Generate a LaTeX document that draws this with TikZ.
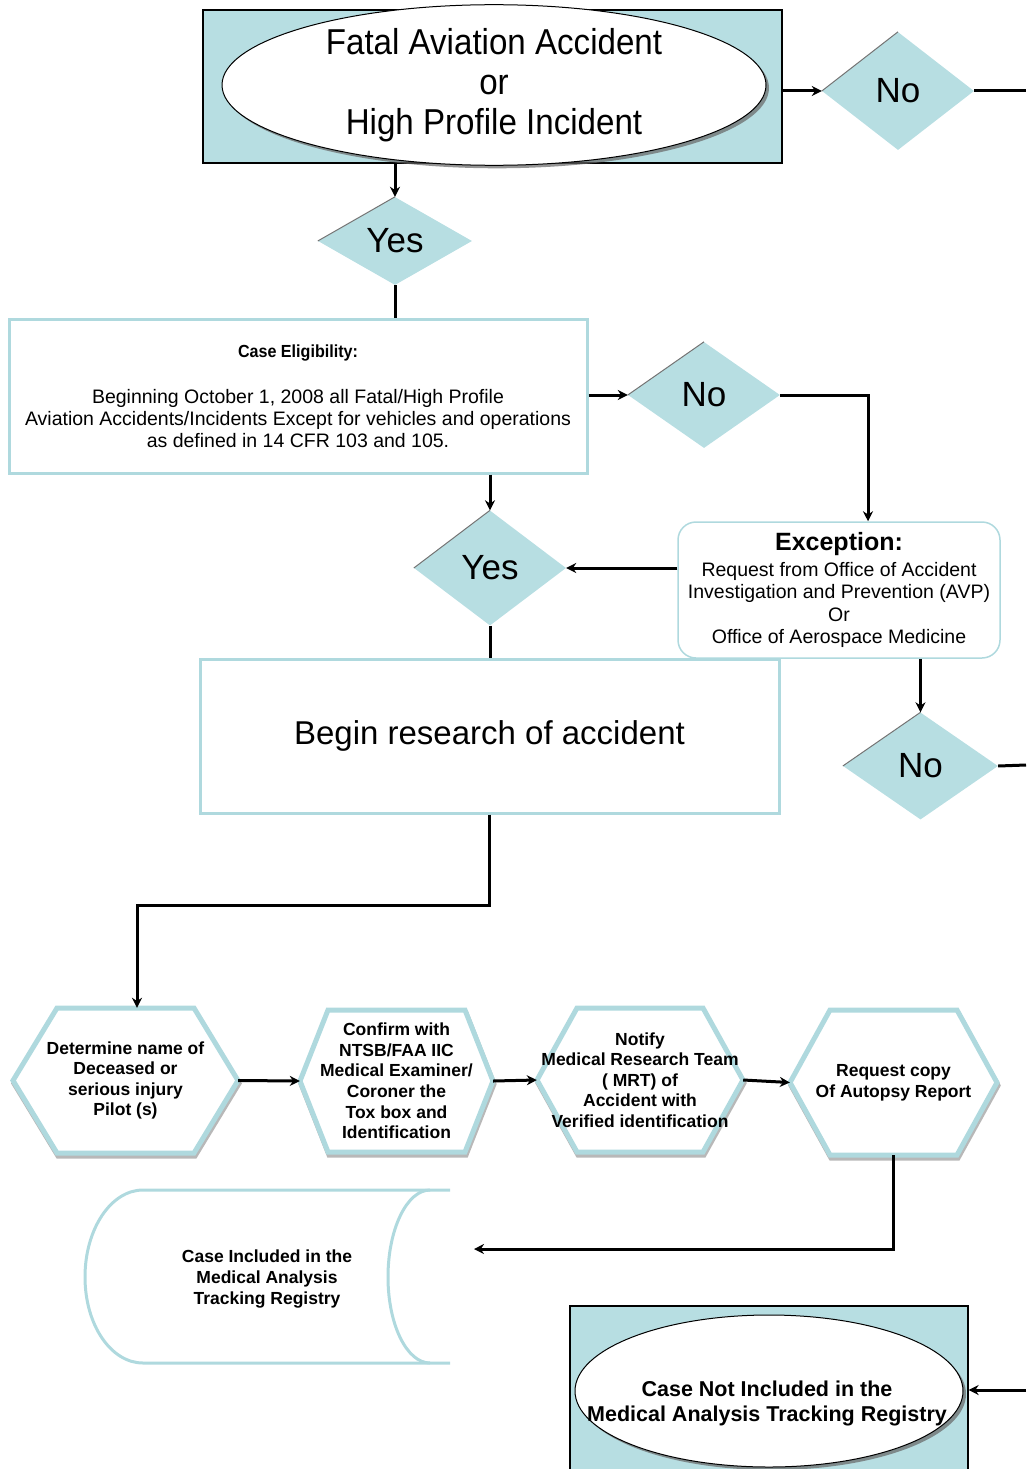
\documentclass[tikz,border=0pt]{standalone}
\usepackage{fontspec}
\setmainfont{Liberation Sans}
\newfontfamily\narrowfont[FakeStretch=0.92]{Liberation Sans}
\usetikzlibrary{shapes.geometric,shadows,arrows.meta}
\definecolor{lb}{RGB}{183,222,226}
\definecolor{lbline}{RGB}{175,217,222}
\newcommand\hexat[5]{%
  \draw[hexshadow] ({#1-#3+1},{#2+3}) -- ({#1-#3+#5+1},{#2-#4+3}) -- ({#1+#3-#5+1},{#2-#4+3}) -- ({#1+#3+1},{#2+3}) -- ({#1+#3-#5+1},{#2+#4+3}) -- ({#1-#3+#5+1},{#2+#4+3}) -- cycle;
  \draw[hexline] ({#1-#3},{#2}) -- ({#1-#3+#5},{#2-#4}) -- ({#1+#3-#5},{#2-#4}) -- ({#1+#3},{#2}) -- ({#1+#3-#5},{#2+#4}) -- ({#1-#3+#5},{#2+#4}) -- cycle;}
\begin{document}
\begin{tikzpicture}[x=1pt,y=-1pt,
  arr/.style={line width=3pt,-{Stealth[length=10pt,width=10pt]}},
  conn/.style={line width=3pt},
  dia/.style={diamond,fill=lb,inner sep=0pt,font=\fontsize{35}{35}\selectfont},
  dkedge/.style={draw=black!55,line width=1pt},
  hexline/.style={draw=lbline,line width=5pt,fill=white,line join=miter},
  hexshadow/.style={draw=black!28,line width=5pt,line join=miter},
  hext/.style={inner sep=0pt,align=center,font=\bfseries\fontsize{17.5}{20.6}\selectfont},
  whitebox/.style={draw=lbline,line width=3pt,fill=white,inner sep=0pt},
  bluebox/.style={draw=black,line width=1.2pt,fill=lb,inner sep=0pt},
  oval/.style={ellipse,draw=black,line width=1pt,fill=white,inner sep=0pt,
    drop shadow={shadow xshift=3pt,shadow yshift=-3pt,fill=black!60,opacity=0.7}}]
\useasboundingbox (0,0) rectangle (1026,1469);
\begin{scope}
\clip (0,0) rectangle (1026,1469);

% top start
\node[bluebox,minimum width=579pt,minimum height=153pt] (topbox) at (492.5,86.5) {};
\node[oval,minimum width=544pt,minimum height=144pt,align=center,
  font=\narrowfont\fontsize{36}{40}\selectfont] (fatal) at (494,85)
  {Fatal Aviation Accident\\or\\High Profile Incident};

\node[dia,minimum width=152pt,minimum height=118pt] (no1) at (898,91) {No};
\draw[dkedge] (no1.west) -- (no1.north);
\draw[arr] (topbox.east |- no1.west) -- (no1.west);
\coordinate (e1) at (1026,91);
\draw[conn] (no1.east) -- (e1);

\node[dia,minimum width=154pt,minimum height=88pt] (yes1) at (395,241) {Yes};
\draw[dkedge] (yes1.west) -- (yes1.north);
\draw[arr] (yes1.north |- topbox.south) -- (yes1.north);

% case eligibility
\node[whitebox,minimum width=578pt,minimum height=154pt,align=center,
  font=\fontsize{19.5}{22}\selectfont] (case) at (298,396)
  {{\narrowfont\bfseries\fontsize{17.5}{22}\selectfont Case Eligibility:}\\[24pt]Beginning October 1, 2008 all Fatal/High Profile\\Aviation Accidents/Incidents Except for vehicles and operations\\as defined in 14 CFR 103 and 105.};
\draw[conn] (yes1.south) -- (yes1.south |- case.north);

\node[dia,minimum width=152pt,minimum height=106pt] (no2) at (704,395) {No};
\draw[dkedge] (no2.west) -- (no2.north);
\draw[arr] (case.east |- no2.west) -- (no2.west);

% exception
\node[draw=lbline,line width=1.5pt,rounded corners=18pt,fill=white,inner sep=0pt,
  minimum width=322pt,minimum height=136pt,align=center,
  font=\fontsize{19.5}{22.5}\selectfont] (exc) at (839,590)
  {{\bfseries\fontsize{25}{28}\selectfont Exception:}\\[3pt]Request from Office of Accident\\Investigation and Prevention (AVP)\\Or\\Office of Aerospace Medicine};
\draw[arr] (no2.east) -| ([xshift=29pt]exc.north);

\node[dia,minimum width=152pt,minimum height=115pt] (yes2) at (490,568) {Yes};
\draw[dkedge] (yes2.west) -- (yes2.north);
\draw[arr] (yes2.north |- case.south) -- (yes2.north);
\draw[arr] (exc.west |- yes2.east) -- (yes2.east);

% begin research
\node[whitebox,minimum width=579pt,minimum height=154pt,
  font=\fontsize{33}{40}\selectfont] (begin) at (489.5,736) {Begin research of accident};
\draw[conn] (yes2.south) -- (yes2.south |- begin.north);

\node[dia,minimum width=155pt,minimum height=107pt] (no3) at (920.5,766) {No};
\draw[dkedge] (no3.west) -- (no3.north);
\draw[arr] (no3.north |- exc.south) -- (no3.north);
\coordinate (e2) at (1026,765);
\draw[conn] (no3.east) -- (e2);

% hexagons
\hexat{125.5}{1080.5}{112.5}{72.5}{44}
\hexat{396.5}{1081}{96.5}{71}{28}
\hexat{640}{1080}{103}{72}{40}
\hexat{893.5}{1082.5}{103.5}{72.5}{40}
\node[hext,minimum width=225pt,minimum height=145pt] (h1) at (125.5,1080.5)
  {Determine name of\\Deceased or\\serious injury\\Pilot (s)};
\node[hext,minimum width=193pt,minimum height=142pt] (h2) at (396.5,1081)
  {Confirm with\\NTSB/FAA IIC\\Medical Examiner/\\Coroner the\\Tox box and\\Identification};
\node[hext,minimum width=206pt,minimum height=144pt] (h3) at (640,1080)
  {Notify\\Medical Research Team\\( MRT) of\\Accident with\\Verified identification};
\node[hext,minimum width=207pt,minimum height=145pt] (h4) at (893.5,1082.5)
  {Request copy\\Of Autopsy Report};
\draw[arr] (begin.south) -- ++(0,91) -| ([xshift=11.5pt]h1.north);
\draw[arr] (h1.east) -- (h2.west);
\draw[arr] (h2.east) -- (h3.west);
\draw[arr] (h3.east) -- (h4.west);

% stored data
\draw[draw=lbline,line width=3pt,fill=white]
  (450,1190) -- (143,1190) .. controls (111,1190) and (85,1229) .. (85,1277)
  .. controls (85,1325) and (111,1363) .. (143,1363) -- (450,1363);
\draw[draw=lbline,line width=3pt]
  (430,1190) .. controls (407,1190) and (388,1229) .. (388,1277)
  .. controls (388,1325) and (407,1363) .. (430,1363);
\node[hext] (reg) at (267,1279) {Case Included in the\\Medical Analysis\\Tracking Registry};
\coordinate (regin) at (474,1249);
\draw[arr] (h4.south) |- (regin);

% not included
\node[bluebox,minimum width=398pt,minimum height=175pt] (notbox) at (769,1393.5) {};
\node[oval,minimum width=388pt,minimum height=152pt] (notell) at (769,1391) {};
\node[inner sep=0pt,align=center,font=\bfseries\fontsize{21.5}{25}\selectfont] (nottxt) at (767,1403)
  {Case Not Included in the\\Medical Analysis Tracking Registry};
\coordinate (e3) at (1026,1390);
\draw[arr] (e3) -- (notbox.east |- e3);
\end{scope}
\end{tikzpicture}
\end{document}
